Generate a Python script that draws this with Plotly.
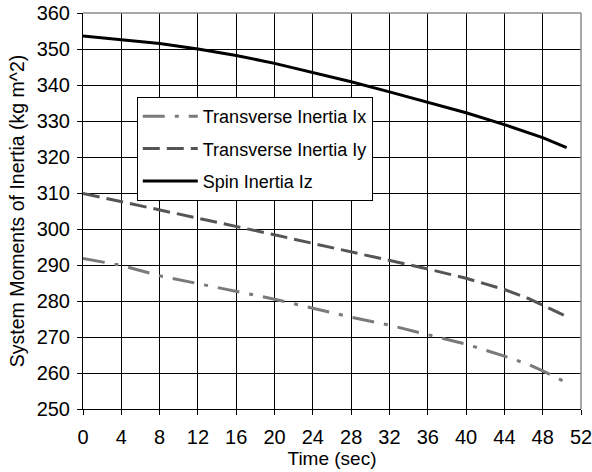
import plotly.graph_objects as go

time_s = [0, 4, 8, 12, 16, 20, 24, 28, 32, 36, 40, 44, 46.5, 48, 50.5]
inertia_ix = [291.8, 289.9, 287.0, 284.9, 282.8, 280.5, 278.0, 275.5, 273.3, 270.7, 268.0, 264.7, 262.4, 260.6, 257.3]
inertia_iy = [309.9, 307.6, 305.3, 303.2, 300.7, 298.4, 296.0, 293.7, 291.4, 288.9, 286.3, 283.2, 280.7, 278.9, 275.7]
inertia_iz = [353.6, 352.6, 351.5, 350.0, 348.2, 346.0, 343.5, 340.9, 338.1, 335.3, 332.3, 329.0, 326.8, 325.4, 322.6]
series_names = ["Transverse Inertia Ix", "Transverse Inertia Iy", "Spin Inertia Iz"]
x_ticks = list(range(0, 53, 4))
y_ticks = list(range(250, 361, 10))

FONT = "Liberation Sans, Arial, sans-serif"

fig = go.Figure()
fig.add_trace(go.Scatter(x=time_s, y=inertia_ix, mode="lines", name=series_names[0],
                         legendgroup="a",
                         line=dict(color="#7a7a7a", width=3, dash="22px,10px,4px,10px")))
fig.add_trace(go.Scatter(x=time_s, y=inertia_iy, mode="lines", name=series_names[1],
                         legendgroup="b",
                         line=dict(color="#555555", width=3, dash="17px,7px")))
fig.add_trace(go.Scatter(x=time_s, y=inertia_iz, mode="lines", name=series_names[2],
                         legendgroup="c",
                         line=dict(color="#000000", width=3)))

fig.update_layout(
    width=592, height=472,
    margin=dict(l=83, r=11, t=13, b=63, autoexpand=False),
    paper_bgcolor="white", plot_bgcolor="white",
    font=dict(family=FONT, color="black", size=18),
    legend=dict(x=0.108, y=0.788, xanchor="left", yanchor="top",
                bgcolor="white", bordercolor="black", borderwidth=1,
                font=dict(size=18, family=FONT), tracegroupgap=6,
                itemwidth=55, traceorder="grouped"),
    xaxis=dict(range=[0, 52], tickvals=x_ticks, ticktext=[str(v) for v in x_ticks],
               showgrid=True, gridcolor="black", gridwidth=1,
               showline=True, linecolor="black", linewidth=1,
               ticks="outside", ticklen=5, tickcolor="black",
               tickfont=dict(size=20, family=FONT), ticklabelstandoff=5,
               ticklabeloverflow="allow", automargin=False,
               title=dict(text="Time (sec)", font=dict(size=19, family=FONT), standoff=0),
               zeroline=False),
    yaxis=dict(range=[250, 360], tickvals=y_ticks, ticktext=[str(v) for v in y_ticks],
               showgrid=True, gridcolor="black", gridwidth=1,
               showline=True, linecolor="black", linewidth=1,
               ticks="outside", ticklen=5, tickcolor="black",
               tickfont=dict(size=20, family=FONT), ticklabelstandoff=3,
               ticklabeloverflow="allow", automargin=False,
               title=dict(text="System Moments of Inertia (kg m^2)", font=dict(size=19.5, family=FONT), standoff=6),
               zeroline=False),
    shapes=[
        dict(type="line", xref="paper", yref="paper", x0=0, x1=1, y0=1, y1=1,
             line=dict(color="#8a8a8a", width=1.5), layer="above"),
        dict(type="line", xref="paper", yref="paper", x0=1, x1=1, y0=0, y1=1,
             line=dict(color="#8a8a8a", width=1.5), layer="above"),
    ],
)

fig.write_html("out.html")
